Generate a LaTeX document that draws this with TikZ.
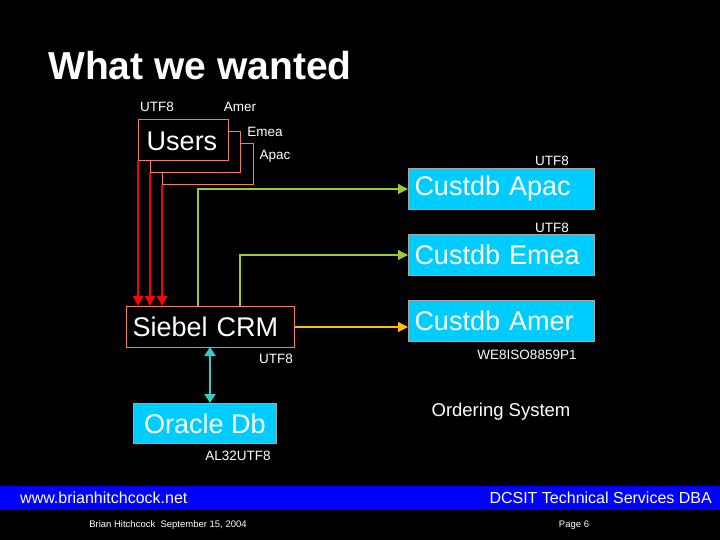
\documentclass[tikz,border=0pt]{standalone}
\usepackage{fontspec}
\setmainfont{Liberation Sans}
\usetikzlibrary{arrows.meta}
\definecolor{cy}{HTML}{00CCFF}
\definecolor{sal}{HTML}{F08060}
\definecolor{grn}{HTML}{99CC33}
\definecolor{yel}{HTML}{FFC000}
\definecolor{teal2}{HTML}{33CCCC}
\begin{document}
\begin{tikzpicture}[x=1pt,y=-1pt,
  lbl/.style={text=white,font=\fontsize{13.5}{15}\selectfont,inner sep=0},
  ubox/.style={draw=sal,line width=1pt,fill=black},
  big/.style={text=white,font=\fontsize{27}{30}\selectfont},
  cbox/.style={draw=gray!70,line width=1pt,fill=cy,big,minimum width=186pt,minimum height=41pt,anchor=north west,inner xsep=6pt,inner ysep=0,text width=174pt,align=left},
  redar/.style={red,line width=1.8pt,-{Triangle[length=10pt,width=10pt]}},
  grar/.style={grn,line width=1.2pt,-{Triangle[length=10pt,width=10pt]}}]
\fill[black] (0,0) rectangle (720,540);
\useasboundingbox (0,0) rectangle (720,540);
\node[anchor=west,text=white,font=\bfseries\fontsize{39}{42}\selectfont,inner sep=0] (title) at (48,66) {What we wanted};
% users stacked boxes
\draw[ubox] (162,144) rectangle (253,185);
\draw[ubox] (150,132) rectangle (240,173);
\draw[ubox] (138,120) rectangle (228,161);
\node[big,inner sep=0] (users) at (182,141) {Users};
\node[lbl] (l1) at (157,107) {UTF8};
\node[lbl] (l2) at (240,107) {Amer};
\node[lbl] (l3) at (265,132) {Emea};
\node[lbl] (l4) at (275,156) {Apac};
% Siebel
\node[draw=sal,line width=1pt,minimum width=168pt,minimum height=41pt,anchor=north west,inner xsep=6pt,inner ysep=0,text width=156pt,align=left,big] (siebel) at (126,306) {Siebel CRM};
\coordinate (u1) at (138,161); \coordinate (u2) at (150,173); \coordinate (u3) at (162,185);
\draw[redar] (u1) -- (u1 |- siebel.north);
\draw[redar] (u2) -- (u2 |- siebel.north);
\draw[redar] (u3) -- (u3 |- siebel.north);
% custdb
\node[cbox] (apac) at (408,168) {Custdb Apac};
\node[cbox] (emea) at (408,234) {Custdb Emea};
\node[cbox] (amer) at (408,300) {Custdb Amer};
\node[lbl] (a1) at (552,161) {UTF8};
\node[lbl] (a2) at (552,228) {UTF8};
\coordinate (g1) at (198,306); \coordinate (g2) at (240,306);
\draw[grar] (g1) |- (apac.west);
\draw[grar] (g2) |- (emea.west);
\draw[yel,line width=1.2pt,-{Triangle[length=10pt,width=10pt]}] (siebel.east) -- (siebel.east -| amer.west);
\node[lbl] (s1) at (276,359) {UTF8};
\node[lbl] (w1) at (527,355) {WE8ISO8859P1};
\node[text=white,font=\fontsize{18.5}{21}\selectfont,inner sep=0] (ord) at (501,412) {Ordering System};
% oracle
\node[draw=gray!70,line width=1pt,fill=cy,big,minimum width=143pt,minimum height=40pt,anchor=north west,inner sep=0] (ora) at (133,403) {Oracle Db};
\coordinate (t1) at (210,347);
\draw[teal2,line width=2.5pt,{Triangle[length=9pt,width=11pt]}-{Triangle[length=9pt,width=11pt]}] (t1) -- (t1 |- ora.north);
\node[lbl] (al) at (238,456) {AL32UTF8};
% footer
\fill[blue] (0,486) rectangle (720,510);
\node[anchor=west,text=white,font=\fontsize{16}{18}\selectfont,inner sep=0] (www) at (20,498) {www.brianhitchcock.net};
\node[anchor=east,text=white,font=\fontsize{16}{18}\selectfont,inner sep=0] (dcsit) at (712,498) {DCSIT Technical Services DBA};
\node[text=white,font=\fontsize{9.5}{11}\selectfont,inner sep=0] (auth) at (168,525) {Brian Hitchcock\ \ September 15, 2004};
\node[text=white,font=\fontsize{9.5}{11}\selectfont,inner sep=0] (page) at (574,525) {Page 6};
\end{tikzpicture}
\end{document}
